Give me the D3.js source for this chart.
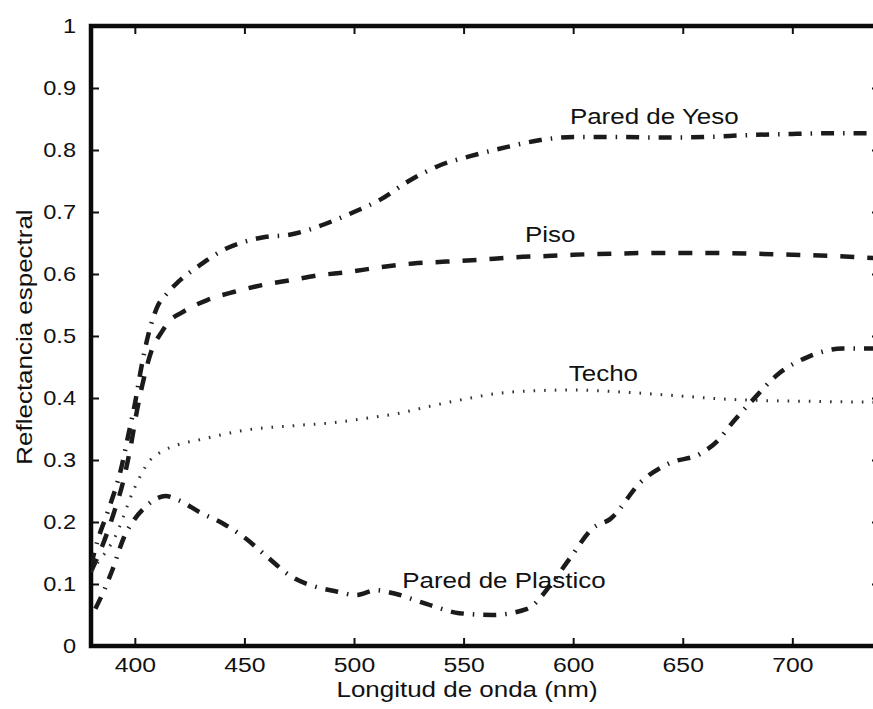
<!DOCTYPE html>
<html>
<head>
<meta charset="utf-8">
<script src="https://cdn.jsdelivr.net/npm/d3@7"></script>
<style>
  html, body { margin: 0; padding: 0; background: #ffffff; }
  svg text { font-family: "Liberation Sans", Arial, Helvetica, sans-serif; fill: #111; }
</style>
</head>
<body>
<svg id="chart" width="873" height="709"></svg>
<script>
// Spectral reflectance of indoor surfaces, 380–740 nm
const xTicks = [400, 450, 500, 550, 600, 650, 700];
const yTicks = [0, 0.1, 0.2, 0.3, 0.4, 0.5, 0.6, 0.7, 0.8, 0.9, 1];
const yTickLabels = ["0", "0.1", "0.2", "0.3", "0.4", "0.5", "0.6", "0.7", "0.8", "0.9", "1"];

const yesoNm = [380, 383, 388, 394, 397, 400, 403, 406, 410, 415, 420, 430, 440, 450, 460, 470, 480, 490, 500, 512, 525, 539, 553, 570, 585, 600, 620, 640, 660, 680, 700, 720, 740];
const yesoR  = [0.13, 0.17, 0.22, 0.29, 0.34, 0.39, 0.45, 0.50, 0.545, 0.57, 0.588, 0.615, 0.638, 0.652, 0.66, 0.663, 0.672, 0.685, 0.70, 0.72, 0.75, 0.775, 0.79, 0.805, 0.816, 0.821, 0.821, 0.82, 0.821, 0.824, 0.826, 0.827, 0.827];

const pisoNm = [380, 385, 390, 395, 398, 401, 404, 408, 412, 416, 421, 433, 445, 458, 471, 484, 497, 512, 527, 542, 557, 573, 588, 600, 620, 640, 660, 680, 700, 720, 740];
const pisoR  = [0.12, 0.16, 0.21, 0.27, 0.32, 0.38, 0.43, 0.48, 0.505, 0.525, 0.537, 0.558, 0.571, 0.582, 0.59, 0.598, 0.603, 0.611, 0.617, 0.62, 0.623, 0.627, 0.629, 0.631, 0.633, 0.634, 0.634, 0.633, 0.631, 0.629, 0.625];

const techoNm = [380, 383, 391, 400, 407, 412, 420, 430, 450, 475, 490, 505, 520, 535, 550, 567, 585, 600, 615, 630, 650, 670, 685, 700, 720, 740];
const techoR  = [0.12, 0.134, 0.176, 0.256, 0.30, 0.313, 0.325, 0.333, 0.348, 0.356, 0.36, 0.367, 0.375, 0.387, 0.398, 0.408, 0.412, 0.413, 0.411, 0.408, 0.403, 0.398, 0.396, 0.395, 0.394, 0.393];

const plasticoNm = [382, 386, 390, 395, 400, 405, 410, 414, 420, 430, 440, 450, 460, 471, 484, 492, 501, 510, 518, 533, 548, 563, 579, 590, 599, 609, 617, 631, 644, 658, 667, 671, 682, 694, 707, 723, 740];
const plasticoR  = [0.06, 0.09, 0.125, 0.175, 0.205, 0.225, 0.238, 0.242, 0.235, 0.215, 0.198, 0.175, 0.145, 0.113, 0.094, 0.088, 0.082, 0.09, 0.085, 0.068, 0.053, 0.05, 0.06, 0.1, 0.144, 0.19, 0.205, 0.265, 0.295, 0.31, 0.335, 0.353, 0.397, 0.44, 0.466, 0.48, 0.48];

const seriesNames = ["Pared de Yeso", "Piso", "Techo", "Pared de Plastico"];

const svg = d3.select("#chart");
const plot = { left: 91, right: 880, top: 26, bottom: 646 };

const x = d3.scaleLinear().domain([380, 740]).range([plot.left, plot.right]);
const y = d3.scaleLinear().domain([0, 1]).range([plot.bottom, plot.top]);

const STRETCH = 1.18;

// Ticks (inward on all four sides)
const gBottom = svg.append("g").attr("transform", `translate(0,${plot.bottom})`)
  .call(d3.axisBottom(x).tickValues(xTicks).tickSize(-8).tickPadding(14).tickFormat(d3.format("d")));
const gTop = svg.append("g").attr("transform", `translate(0,${plot.top})`)
  .call(d3.axisTop(x).tickValues(xTicks).tickSize(-8).tickFormat(""));
const gLeft = svg.append("g").attr("transform", `translate(${plot.left},0)`)
  .call(d3.axisLeft(y).tickValues(yTicks).tickSize(-8).tickPadding(14).tickFormat((d, i) => yTickLabels[i]));
const gRight = svg.append("g").attr("transform", `translate(${plot.right},0)`)
  .call(d3.axisRight(y).tickValues(yTicks).tickSize(-8).tickFormat(""));

[gBottom, gTop, gLeft, gRight].forEach(g => {
  g.select(".domain").remove();
  g.selectAll(".tick line").attr("stroke", "#111").attr("stroke-width", 2);
});
gBottom.selectAll(".tick text")
  .attr("font-size", 21).attr("fill", "#111")
  .attr("transform", `scale(${STRETCH},1)`).attr("dy", "0.55em");
gLeft.selectAll(".tick text")
  .attr("font-size", 20).attr("fill", "#111")
  .attr("x", -15 / STRETCH)
  .attr("transform", `scale(${STRETCH},1)`);

// Frame
svg.append("rect")
  .attr("x", plot.left).attr("y", plot.top)
  .attr("width", plot.right - plot.left).attr("height", plot.bottom - plot.top)
  .attr("fill", "none").attr("stroke", "#0a0a0a").attr("stroke-width", 4.5);

// Curves
const line = d3.line().x(d => x(d[0])).y(d => y(d[1])).curve(d3.curveMonotoneX);
const zip = (a, b) => a.map((v, i) => [v, b[i]]);

const curves = [
  { data: zip(yesoNm, yesoR), dash: "13,9,1.5,9", width: 4.5, color: "#1b1b1b" },
  { data: zip(pisoNm, pisoR), dash: "14,13", width: 4.5, color: "#1b1b1b" },
  { data: zip(techoNm, techoR), dash: "1.6,9", width: 3, color: "#333333" },
  { data: zip(plasticoNm, plasticoR), dash: "13,9,1.5,9", width: 4.5, color: "#1b1b1b" }
];

svg.append("clipPath").attr("id", "plotClip").append("rect")
  .attr("x", plot.left).attr("y", plot.top)
  .attr("width", plot.right - plot.left).attr("height", plot.bottom - plot.top);

svg.append("g").attr("clip-path", "url(#plotClip)")
  .selectAll("path").data(curves).join("path")
  .attr("d", d => line(d.data))
  .attr("fill", "none")
  .attr("stroke", d => d.color)
  .attr("stroke-width", d => d.width)
  .attr("stroke-dasharray", d => d.dash);

// Series labels, anchored in data coordinates
const labelAnchors = [
  { name: seriesNames[0], nm: 598.5, r: 0.842 },
  { name: seriesNames[1], nm: 578, r: 0.651 },
  { name: seriesNames[2], nm: 598, r: 0.428 },
  { name: seriesNames[3], nm: 522, r: 0.094 }
];
svg.append("g").selectAll("text").data(labelAnchors).join("text")
  .attr("transform", d => `translate(${x(d.nm)},${y(d.r)}) scale(${STRETCH},1)`)
  .attr("font-size", 22)
  .text(d => d.name);

// Axis titles
svg.append("text")
  .attr("transform", `translate(467,697) scale(${STRETCH},1)`)
  .attr("text-anchor", "middle")
  .attr("font-size", 22)
  .text("Longitud de onda (nm)");

svg.append("text")
  .attr("transform", `translate(32,337) rotate(-90) scale(${STRETCH},1)`)
  .attr("text-anchor", "middle")
  .attr("font-size", 22)
  .text("Reflectancia espectral");
</script>
</body>
</html>
